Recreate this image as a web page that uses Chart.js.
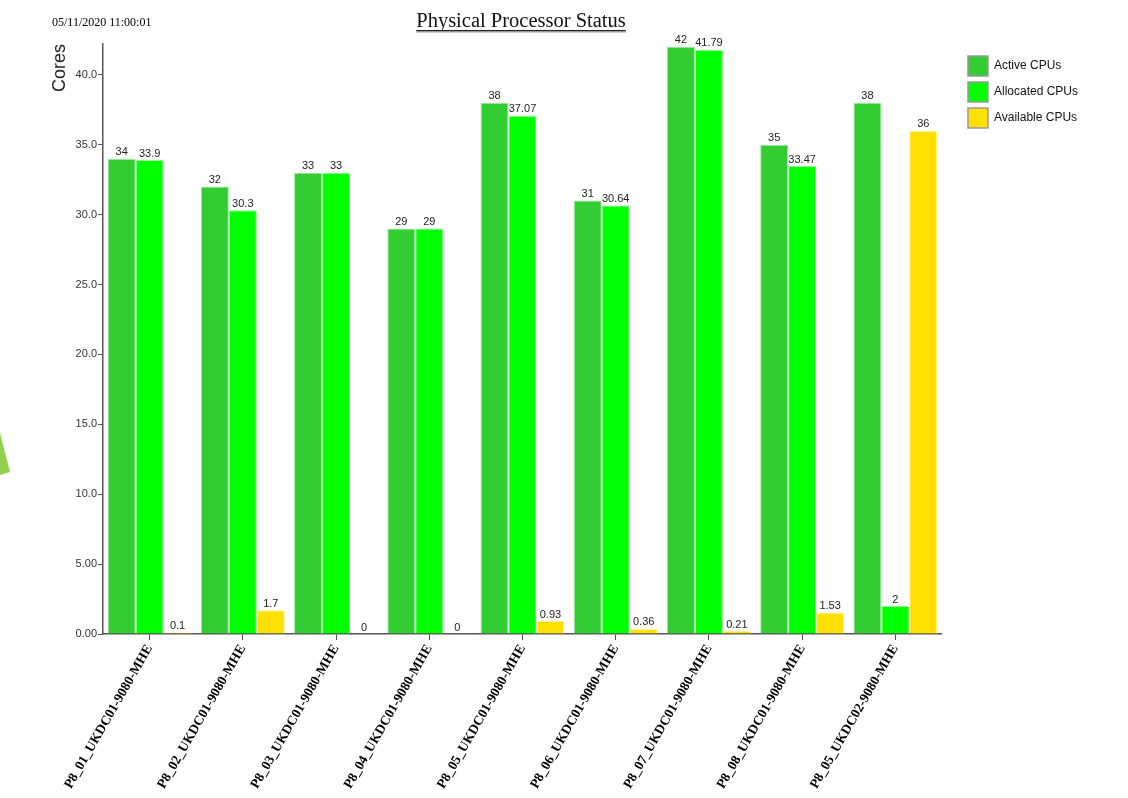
<!DOCTYPE html>
<html>
<head>
<meta charset="utf-8">
<title>Physical Processor Status</title>
<script src="https://cdn.jsdelivr.net/npm/chart.js@4"></script>
<style>
  html, body { margin: 0; padding: 0; background: #fff; }
  #wrap { width: 1128px; height: 798px; }
</style>
</head>
<body>
<div id="wrap"><canvas id="cpuChart" width="1128" height="798"></canvas></div>
<script>
const frames = [
    "P8_01_UKDC01-9080-MHE", "P8_02_UKDC01-9080-MHE", "P8_03_UKDC01-9080-MHE",
    "P8_04_UKDC01-9080-MHE", "P8_05_UKDC01-9080-MHE", "P8_06_UKDC01-9080-MHE",
    "P8_07_UKDC01-9080-MHE", "P8_08_UKDC01-9080-MHE", "P8_05_UKDC02-9080-MHE"
];
const activeCpus    = [34, 32, 33, 29, 38, 31, 42, 35, 38];
const allocatedCpus = [33.9, 30.3, 33, 29, 37.07, 30.64, 41.79, 33.47, 2];
const availableCpus = [0.1, 1.7, 0, 0, 0.93, 0.36, 0.21, 1.53, 36];
const reportTime = "05/11/2020 11:00:01";

// value labels on top of every bar
const barValues = {
    id: 'barValues',
    afterDatasetsDraw(chart) {
        const ctx = chart.ctx;
        ctx.save();
        ctx.font = '11px "Liberation Sans", Arial, sans-serif';
        ctx.fillStyle = '#222';
        ctx.textAlign = 'center';
        ctx.textBaseline = 'bottom';
        chart.data.datasets.forEach((ds, i) => {
            chart.getDatasetMeta(i).data.forEach((bar, j) => {
                ctx.fillText(String(ds.data[j]), bar.x, bar.y - 1);
            });
        });
        ctx.restore();
    }
};

// header: timestamp, underlined title, and the green marker on the left edge
const header = {
    id: 'header',
    afterDraw(chart) {
        const ctx = chart.ctx;
        ctx.save();
        ctx.fillStyle = '#000';
        ctx.font = '12px "Liberation Serif", "Times New Roman", serif';
        ctx.textAlign = 'left';
        ctx.textBaseline = 'alphabetic';
        ctx.fillText(reportTime, 52, 26);

        ctx.font = '20.5px "Liberation Serif", "Times New Roman", serif';
        ctx.textAlign = 'center';
        ctx.fillStyle = '#111';
        const title = 'Physical Processor Status';
        ctx.fillText(title, 521, 27);
        const w = ctx.measureText(title).width;
        ctx.fillStyle = '#222';
        ctx.fillRect(521 - w / 2, 30, w, 1);
        ctx.fillStyle = '#999';
        ctx.fillRect(521 - w / 2, 31, w, 1.5);

        ctx.fillStyle = '#92D050';
        ctx.beginPath();
        ctx.moveTo(0, 433);
        ctx.lineTo(10, 472);
        ctx.lineTo(0, 475);
        ctx.closePath();
        ctx.fill();
        ctx.restore();
    }
};

const ctx = document.getElementById('cpuChart').getContext('2d');
const cpuChart = new Chart(ctx, {
    type: 'bar',
    data: {
        labels: frames,
        datasets: [
            {
                label: 'Active CPUs',
                data: activeCpus,
                backgroundColor: '#33CC33',
                borderColor: 'rgba(150,230,150,0.9)',
                borderWidth: 1
            },
            {
                label: 'Allocated CPUs',
                data: allocatedCpus,
                backgroundColor: '#00FF00',
                borderColor: 'rgba(140,255,140,0.9)',
                borderWidth: 1
            },
            {
                label: 'Available CPUs',
                data: availableCpus,
                backgroundColor: '#FFE000',
                borderColor: 'rgba(255,240,140,0.9)',
                borderWidth: 1
            }
        ]
    },
    options: {
        responsive: false,
        animation: false,
        layout: {
            padding: { top: 44, right: 40, bottom: 0, left: 0 }
        },
        datasets: {
            bar: { categoryPercentage: 0.9, barPercentage: 1.0 }
        },
        plugins: {
            title: { display: false },
            tooltip: { enabled: false },
            legend: {
                position: 'right',
                align: 'start',
                // empty title just pushes the items down a little
                title: { display: true, text: '', padding: 0, font: { size: 5 } },
                labels: {
                    boxWidth: 20,
                    boxHeight: 20,
                    padding: 6,
                    color: '#111',
                    font: { family: '"Liberation Sans", Arial, sans-serif', size: 12 },
                    generateLabels(chart) {
                        return chart.data.datasets.map((ds, i) => ({
                            text: ds.label,
                            fillStyle: ds.backgroundColor,
                            strokeStyle: '#999',
                            fontColor: '#111',
                            lineWidth: 1.5,
                            datasetIndex: i,
                            hidden: false
                        }));
                    }
                }
            }
        },
        scales: {
            x: {
                afterFit(scale) { scale.height = 164; },
                grid: {
                    offset: false,
                    drawOnChartArea: false,
                    drawTicks: true,
                    tickLength: 6,
                    color: '#555'
                },
                border: { display: true, color: '#555', width: 1.5 },
                ticks: {
                    maxRotation: 60,
                    minRotation: 60,
                    padding: 2,
                    color: '#000',
                    font: { family: '"Liberation Serif", "Times New Roman", serif', size: 13.5, weight: 'bold' }
                }
            },
            y: {
                min: 0,
                max: 42.2,
                afterFit(scale) { scale.width = 103; },
                grid: {
                    drawOnChartArea: false,
                    drawTicks: true,
                    tickLength: 5,
                    color: '#555'
                },
                border: { display: true, color: '#555', width: 1.5 },
                ticks: {
                    stepSize: 5,
                    includeBounds: false,
                    padding: 1,
                    color: '#333',
                    font: { family: '"Liberation Sans", Arial, sans-serif', size: 11 },
                    callback: v => Number(v).toPrecision(3)
                },
                title: {
                    display: true,
                    text: 'Cores',
                    align: 'end',
                    color: '#222',
                    padding: { top: 49, bottom: 0 },
                    font: { family: '"Liberation Sans", Arial, sans-serif', size: 18 }
                }
            },
            // blank spacer between the plot and the legend
            gap: {
                type: 'linear',
                position: 'right',
                display: true,
                afterFit(scale) { scale.width = 20; },
                grid: { display: false },
                border: { display: false },
                ticks: { display: false }
            }
        }
    },
    plugins: [barValues, header]
});
</script>
</body>
</html>
